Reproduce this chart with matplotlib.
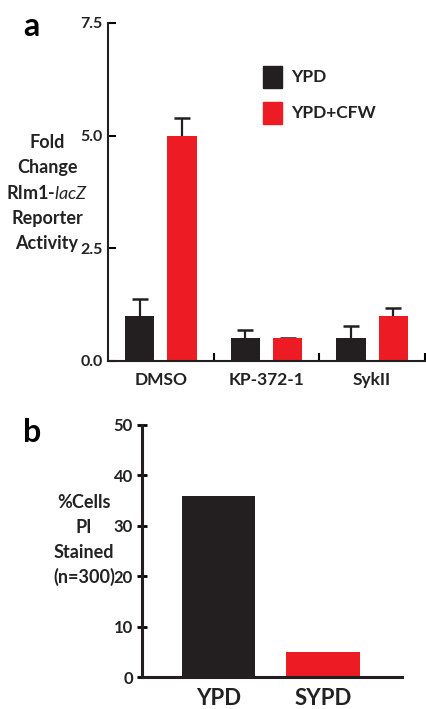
import matplotlib.pyplot as plt

plt.rcParams['font.family'] = ['Lato', 'DejaVu Sans']
plt.rcParams['mathtext.fontset'] = 'custom'
plt.rcParams['mathtext.rm'] = 'Lato'
plt.rcParams['mathtext.it'] = 'Lato:italic'

BLACK = '#231f20'
RED = '#ed1c24'
TXT = '#222222'

# Panel a data
treatments = ['DMSO', 'KP-372-1', 'SykII']
ypd = [1.0, 0.5, 0.5]
ypd_err = [0.38, 0.18, 0.28]
ypd_cfw = [5.0, 0.5, 1.0]
ypd_cfw_err = [0.39, 0.02, 0.18]
yticks_a = [0.0, 2.5, 5.0, 7.5]

# Panel b data
media = ['YPD', 'SYPD']
pi_stained = [36, 5]
yticks_b = [0, 10, 20, 30, 40, 50]

W, H = 426, 709
fig = plt.figure(figsize=(W / 100, H / 100), dpi=100)


def px(x, y):
    return x / W, 1 - y / H


def upper_err(ax, x, y, err):
    # error line up from the bar top, cap only at the top
    ax.errorbar(x, y, yerr=[[0] * len(err), err], fmt='none', ecolor=BLACK,
                elinewidth=1.6, capsize=0, zorder=1)
    ax.plot(x, [a + b for a, b in zip(y, err)], ls='none', marker='_',
            ms=11, mew=1.8, color=BLACK, zorder=1)


# ---- panel a ----
ax = fig.add_axes([108 / W, 1 - 361 / H, 317 / W, 338 / H])
centers = [i + 0.5 for i in range(len(treatments))]
x_ypd = [c - 0.2 for c in centers]
x_cfw = [c + 0.2 for c in centers]
upper_err(ax, x_ypd, ypd, ypd_err)
upper_err(ax, x_cfw, ypd_cfw, ypd_cfw_err)
ax.bar(x_ypd, ypd, width=0.28, color=BLACK, zorder=2)
ax.bar(x_cfw, ypd_cfw, width=0.28, color=RED, zorder=2)
ax.set_xlim(0, 3)
ax.set_ylim(0, 7.5)
ax.set_yticks(yticks_a)
ax.set_yticklabels([f'{v:.1f}' for v in yticks_a], fontsize=11.5, fontweight='bold', color=TXT)
ax.set_xticks(centers)
ax.set_xticklabels(treatments, fontsize=12.5, fontweight='bold', color=TXT)
ax.set_xticks([1, 2, 3], minor=True)
ax.tick_params(axis='x', which='major', length=0, pad=8)
ax.tick_params(axis='x', which='minor', direction='in', length=6, width=1.5)
ax.tick_params(axis='y', direction='in', length=6, width=1.5, pad=4)
for s in ['top', 'right']:
    ax.spines[s].set_visible(False)
for s in ['left', 'bottom']:
    ax.spines[s].set_linewidth(1.5)
    ax.spines[s].set_color(BLACK)

# legend
for yy, col, lab in [(77, BLACK, 'YPD'), (113, RED, 'YPD+CFW')]:
    fig.patches.append(plt.Rectangle(px(263, yy + 11), 19 / W, 22 / H,
                                     transform=fig.transFigure, color=col))
    fig.text(*px(291, yy), lab, fontsize=12.5, fontweight='bold', color=TXT,
             ha='left', va='center')

a_label = ['Fold', 'Change', r'Rlm1-$\mathit{lacZ}$', 'Reporter', 'Activity']
for i, line in enumerate(a_label):
    fig.text(*px(47, 142 + i * 25.5), line, fontsize=13, fontweight='bold',
             color=TXT, ha='center', va='center')
fig.text(*px(31, 27), 'a', fontsize=23, fontweight='bold', ha='center', va='center')

# ---- panel b ----
bx = fig.add_axes([142 / W, 1 - 677 / H, 260 / W, 252 / H])
bx.bar(range(len(media)), pi_stained, width=0.7, color=[BLACK, RED])
bx.set_xlim(-0.73, 1.756)
bx.set_ylim(0, 50)
bx.set_yticks(yticks_b)
bx.set_yticklabels([str(v) for v in yticks_b], fontsize=12, fontweight='bold', color=TXT)
bx.set_xticks(range(len(media)))
bx.set_xticklabels(media, fontsize=16, fontweight='bold', color=TXT)
bx.tick_params(axis='x', length=0, pad=8)
bx.tick_params(axis='y', direction='inout', length=7, width=2, pad=3)
for s in ['top', 'right']:
    bx.spines[s].set_visible(False)
for s in ['left', 'bottom']:
    bx.spines[s].set_linewidth(2.2)
    bx.spines[s].set_color(BLACK)

b_label = ['%Cells', 'PI', 'Stained', '(n=300)']
for i, line in enumerate(b_label):
    fig.text(*px(84, 503 + i * 24.7), line, fontsize=13, fontweight='bold',
             color=TXT, ha='center', va='center')
fig.text(*px(32, 432), 'b', fontsize=23, fontweight='bold', ha='center', va='center')

fig.savefig('out.png', dpi=100)
